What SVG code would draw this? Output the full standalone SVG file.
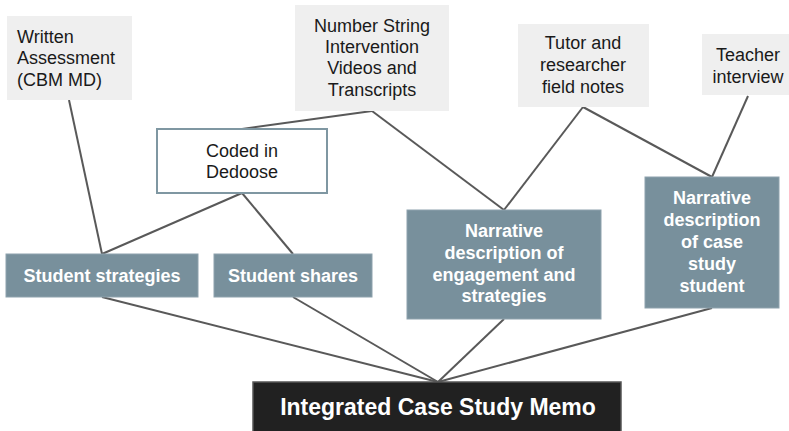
<svg xmlns="http://www.w3.org/2000/svg" width="789" height="431" viewBox="0 0 789 431">
<style>
.src{fill:#efefef;stroke:none}
.mid{fill:#78909c;stroke:#8ea2ad;stroke-width:1}
.code{fill:#ffffff;stroke:#7f97a2;stroke-width:2}
.memo{fill:#212121;stroke:#555555;stroke-width:1.5}
.t{font-family:"Liberation Sans",Arial,sans-serif;font-size:18px;fill:#1a1a1a}
.c{text-anchor:middle}
.w{font-family:"Liberation Sans",Arial,sans-serif;font-size:18px;font-weight:bold;fill:#ffffff;text-anchor:middle}
.m{font-family:"Liberation Sans",Arial,sans-serif;font-size:23px;font-weight:bold;fill:#ffffff;text-anchor:middle}
.ln{stroke:#595959;stroke-width:2;fill:none}
</style>
<rect width="789" height="431" fill="#ffffff"/>
<g id="connectors">
<line class="ln" x1="69" y1="100" x2="102" y2="254"/>
<line class="ln" x1="372" y1="111" x2="242" y2="129"/>
<line class="ln" x1="372" y1="111" x2="504" y2="210"/>
<line class="ln" x1="242" y1="193" x2="102" y2="254"/>
<line class="ln" x1="242" y1="193" x2="293" y2="254"/>
<line class="ln" x1="583" y1="107" x2="504" y2="210"/>
<line class="ln" x1="583" y1="107" x2="712" y2="177"/>
<line class="ln" x1="748" y1="96" x2="712" y2="177"/>
<line class="ln" x1="102" y1="297" x2="438" y2="382"/>
<line class="ln" x1="293" y1="297" x2="438" y2="382"/>
<line class="ln" x1="504" y1="319" x2="438" y2="382"/>
<line class="ln" x1="712" y1="308" x2="438" y2="382"/>
</g>
<g id="written">
<rect class="src" x="7" y="16" width="125" height="84"/>
<text class="t" x="17" y="43">Written</text>
<text class="t" x="17" y="64">Assessment</text>
<text class="t" x="17" y="86">(CBM MD)</text>
</g>
<g id="numberstring">
<rect class="src" x="295" y="5" width="154" height="106"/>
<text class="t c" x="372" y="32">Number String</text>
<text class="t c" x="372" y="53">Intervention</text>
<text class="t c" x="372" y="74">Videos and</text>
<text class="t c" x="372" y="96">Transcripts</text>
</g>
<g id="tutor">
<rect class="src" x="518" y="24" width="131" height="83"/>
<text class="t c" x="583" y="49">Tutor and</text>
<text class="t c" x="583" y="71">researcher</text>
<text class="t c" x="583" y="93">field notes</text>
</g>
<g id="teacher">
<rect class="src" x="702" y="34" width="87" height="61"/>
<text class="t c" x="748" y="61">Teacher</text>
<text class="t c" x="748" y="83">interview</text>
</g>
<g id="coded">
<rect class="code" x="157" y="129" width="170" height="64"/>
<text class="t c" x="242" y="157">Coded in</text>
<text class="t c" x="242" y="178">Dedoose</text>
</g>
<g id="strategies">
<rect class="mid" x="6" y="254" width="192" height="43"/>
<text class="w" x="102" y="282">Student strategies</text>
</g>
<g id="shares">
<rect class="mid" x="214" y="254" width="158" height="43"/>
<text class="w" x="293" y="282">Student shares</text>
</g>
<g id="engagement">
<rect class="mid" x="407" y="210" width="194" height="109"/>
<text class="w" x="504" y="237">Narrative</text>
<text class="w" x="504" y="259">description of</text>
<text class="w" x="504" y="281">engagement and</text>
<text class="w" x="504" y="302">strategies</text>
</g>
<g id="casestudent">
<rect class="mid" x="645" y="177" width="134" height="131"/>
<text class="w" x="712" y="204">Narrative</text>
<text class="w" x="712" y="226">description</text>
<text class="w" x="712" y="248">of case</text>
<text class="w" x="712" y="270">study</text>
<text class="w" x="712" y="292">student</text>
</g>
<g id="memo">
<rect class="memo" x="253" y="382" width="368" height="50"/>
<text class="m" x="438" y="415">Integrated Case Study Memo</text>
</g>
</svg>
